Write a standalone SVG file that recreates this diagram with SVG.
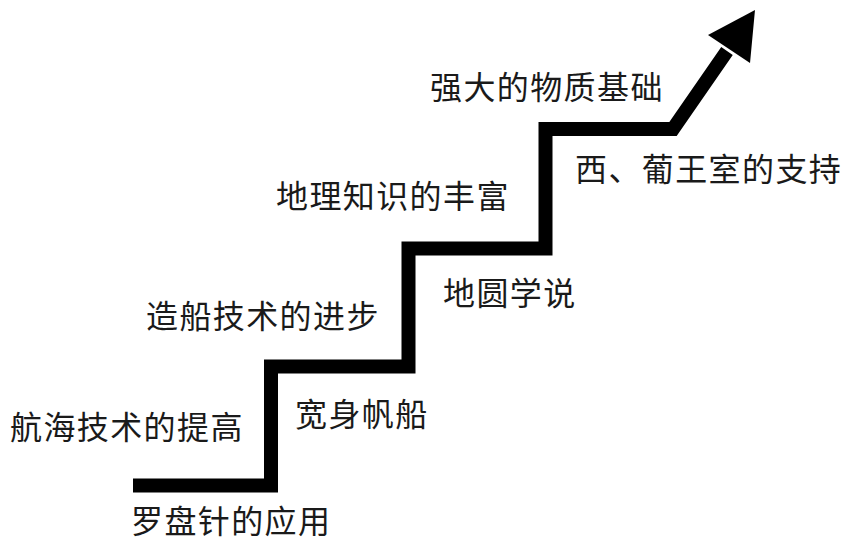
<svg xmlns="http://www.w3.org/2000/svg" width="844" height="541" viewBox="0 0 844 541">
<style>
.t{font-family:"Noto Sans CJK SC","Noto Sans CJK JP",sans-serif;font-size:32px;fill:#1a1a1a;letter-spacing:1.4px}
.stair{fill:none;stroke:#000;stroke-width:14;stroke-linejoin:miter;stroke-miterlimit:10;stroke-linecap:butt}
</style>
<rect width="844" height="541" fill="#fff"/>
<g id="connectors">
<polyline class="stair" points="133,485.5 271,485.5 271,366.5 408.5,366.5 408.5,248.5 545.5,248.5 545.5,129 673,129 727,51"/>
<polygon points="755,10 708,35 750,63" fill="#000"/>
</g>
<g id="n1"><text class="t" x="131" y="533">罗盘针的应用</text></g>
<g id="n2"><text class="t" x="10" y="439">航海技术的提高</text></g>
<g id="n3"><text class="t" x="295" y="426">宽身帆船</text></g>
<g id="n4"><text class="t" x="146" y="328">造船技术的进步</text></g>
<g id="n5"><text class="t" x="443" y="305">地圆学说</text></g>
<g id="n6"><text class="t" x="276" y="208">地理知识的丰富</text></g>
<g id="n7"><text class="t" x="575" y="181">西、葡王室的支持</text></g>
<g id="n8"><text class="t" x="430" y="99">强大的物质基础</text></g>
</svg>
